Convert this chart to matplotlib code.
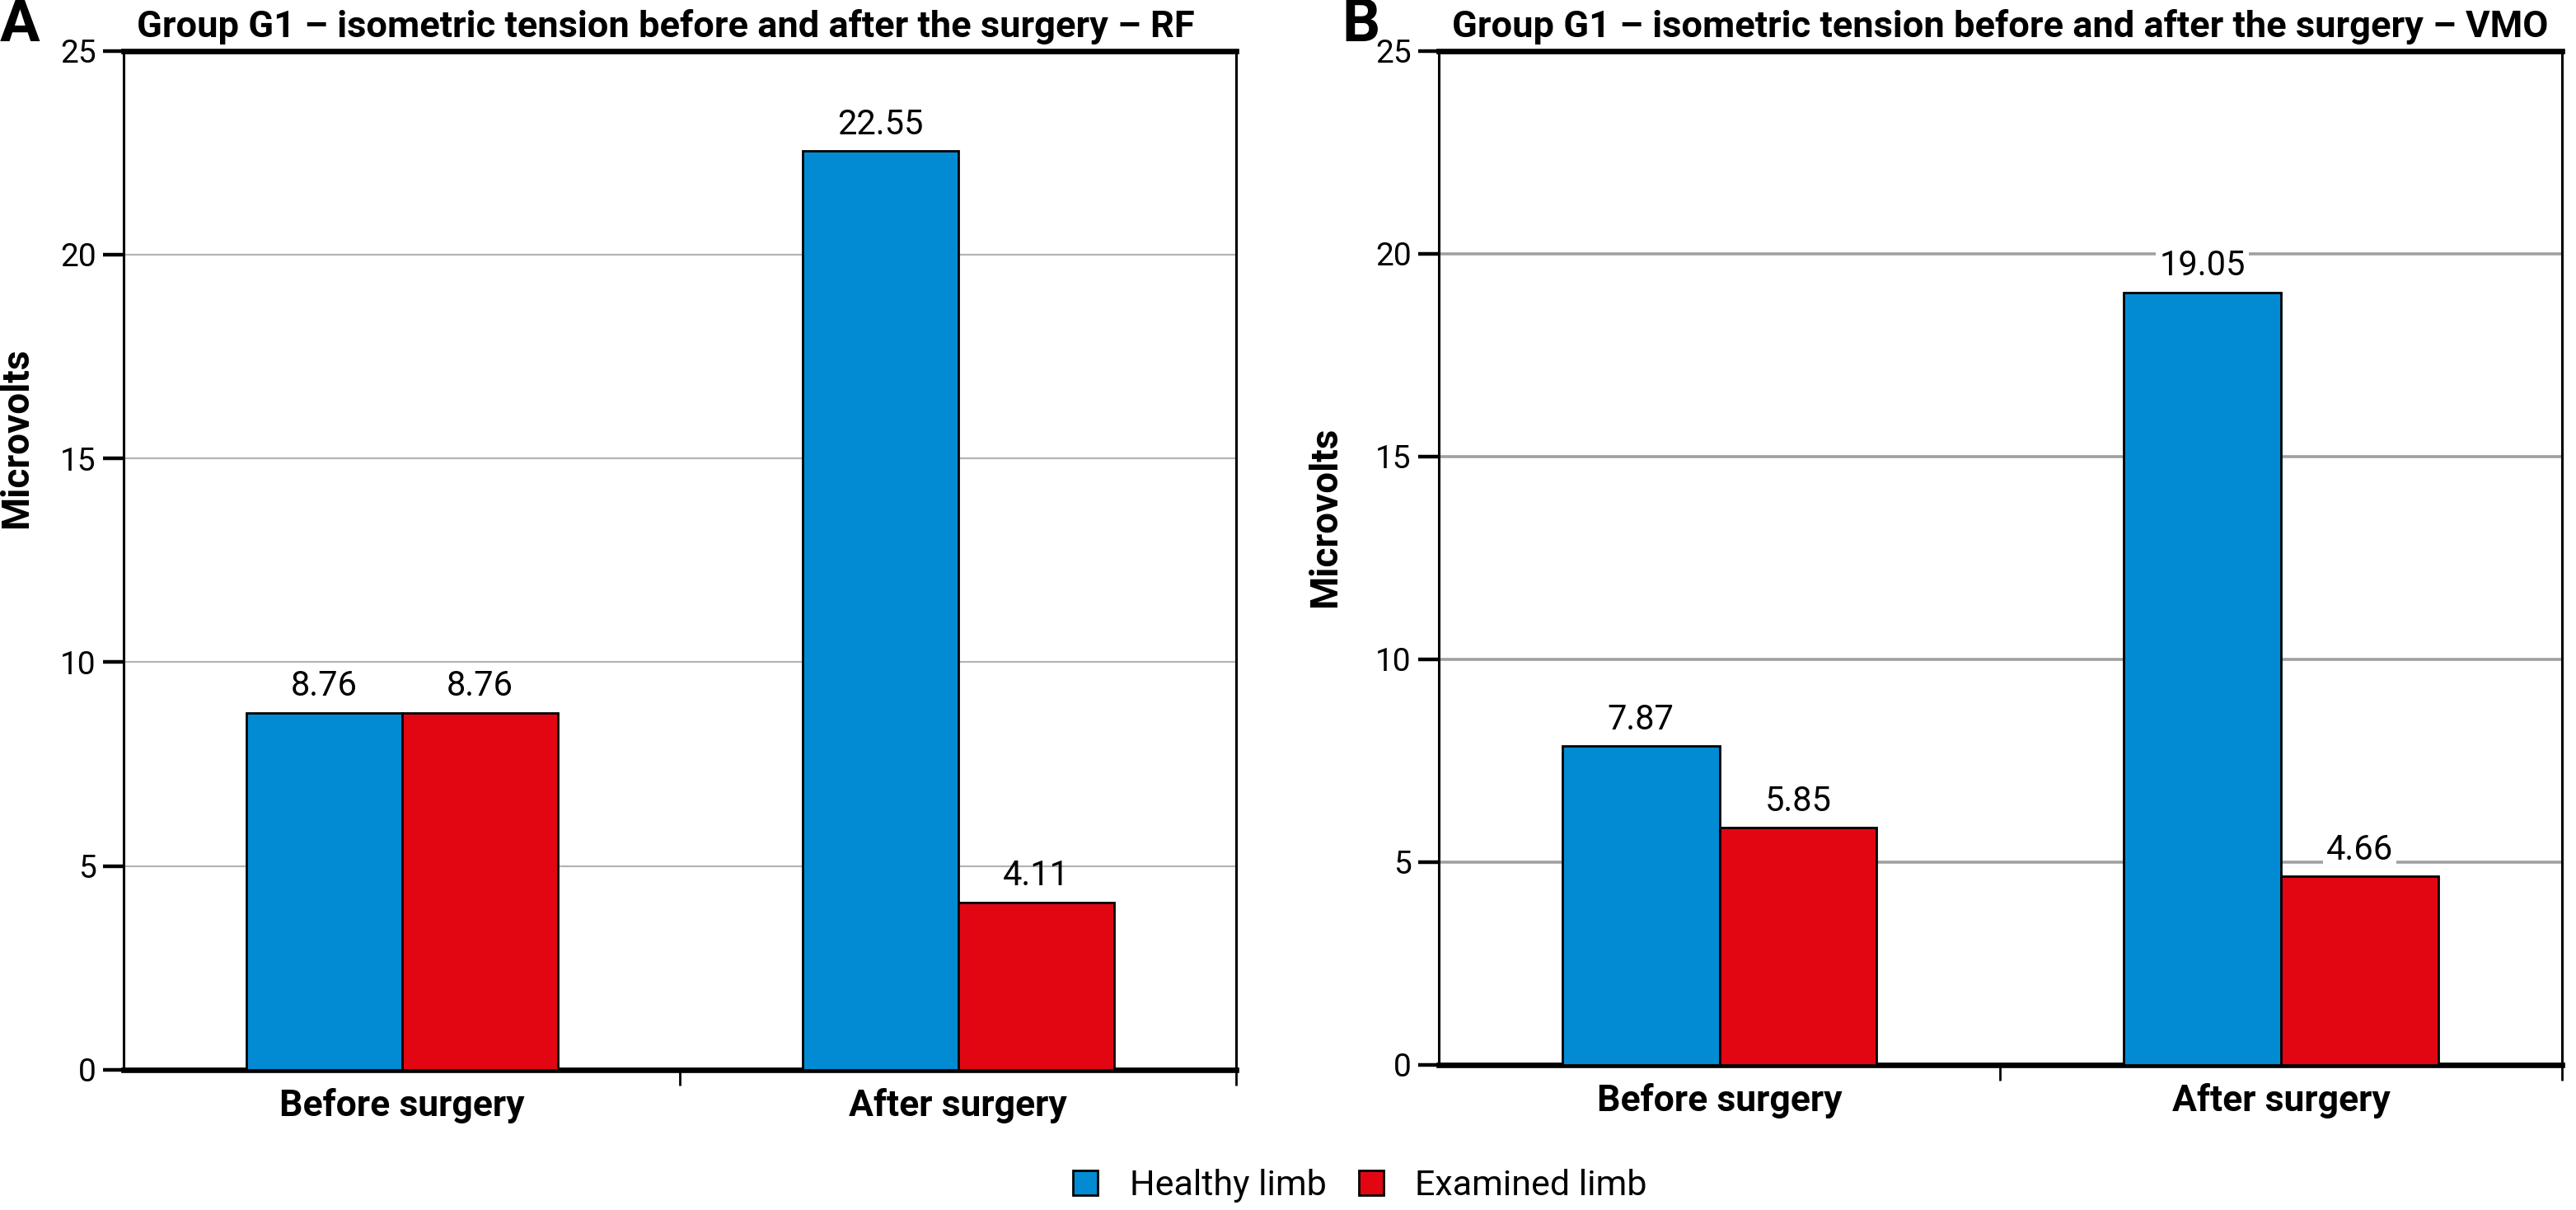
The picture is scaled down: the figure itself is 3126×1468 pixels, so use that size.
import matplotlib.pyplot as plt
import numpy as np

plt.rcParams['font.family'] = ['Roboto', 'DejaVu Sans']

# data
groups = ['Before surgery', 'After surgery']
series = ['Healthy limb', 'Examined limb']
rf_healthy = [8.76, 22.55]
rf_examined = [8.76, 4.11]
vmo_healthy = [7.87, 19.05]
vmo_examined = [5.85, 4.66]
titles = ['Group G1 \u2013 isometric tension before and after the surgery \u2013 RF',
          'Group G1 \u2013 isometric tension before and after the surgery \u2013 VMO']
panel_letters = ['A', 'B']
yticks = [0, 5, 10, 15, 20, 25]

blue = '#028BD3'
red = '#E20613'

fig = plt.figure(figsize=(15.63, 7.34), dpi=200)
ax1 = fig.add_axes([0.048, 0.116, 0.432, 0.842])
ax2 = fig.add_axes([0.5585, 0.1199, 0.436, 0.838])

panels = [(ax1, rf_healthy, rf_examined, '#b4b4b4', 0.8, 0.62, -0.08),
          (ax2, vmo_healthy, vmo_examined, '#a0a0a0', 1.3, 0.54, -0.085)]

x = np.arange(len(groups))
w = 0.28
for i, (ax, h, e, gcol, glw, ylab_y, ylab_x) in enumerate(panels):
    b1 = ax.bar(x - w / 2, h, w, color=blue, edgecolor='black', linewidth=1.0,
                label=series[0], zorder=3)
    b2 = ax.bar(x + w / 2, e, w, color=red, edgecolor='black', linewidth=1.0,
                label=series[1], zorder=3)
    for bars in (b1, b2):
        labs = ax.bar_label(bars, labels=['%.2f' % v for v in bars.datavalues],
                            padding=4, fontsize=15, color='black', zorder=4)
        if i == 1:
            for t in labs:
                t.set_bbox(dict(facecolor='white', edgecolor='none', pad=1.5))

    ax.set_xlim(-0.5, 1.5)
    ax.set_ylim(0, 25)
    ax.set_yticks(yticks)
    ax.set_yticklabels([str(t) for t in yticks], fontsize=14)
    ax.set_xticks(x)
    ax.set_xticklabels(groups, fontsize=16, fontweight='bold')
    ax.set_xticks([0.5, 1.5], minor=True)
    ax.tick_params(axis='x', which='major', length=0, pad=8)
    ax.tick_params(axis='x', which='minor', length=7, width=1.0)
    ax.tick_params(axis='y', length=9, width=1.6, pad=3)

    ax.set_axisbelow(True)
    ax.yaxis.grid(True, color=gcol, linewidth=glw)
    for side in ['top', 'bottom']:
        ax.spines[side].set_linewidth(2.4)
    for side in ['left', 'right']:
        ax.spines[side].set_linewidth(1.1)

    ax.set_ylabel('Microvolts', fontsize=16.5, fontweight='bold')
    ax.yaxis.set_label_coords(ylab_x, ylab_y)
    ax.set_title(titles[i], loc='left', x=0.012, pad=6, fontsize=16.3, fontweight='bold')

fig.text(0.0, 0.966, panel_letters[0], fontsize=26, fontweight='bold')
fig.text(0.521, 0.966, panel_letters[1], fontsize=26, fontweight='bold')

handles, labels = ax1.get_legend_handles_labels()
fig.legend(handles, labels, loc='center', bbox_to_anchor=(0.528, 0.02), ncol=2,
           frameon=False, prop={'size': 15.5},
           handlelength=0.7, handleheight=0.7, handletextpad=0.9, columnspacing=0.9)

fig.savefig('out.png', dpi=200)
